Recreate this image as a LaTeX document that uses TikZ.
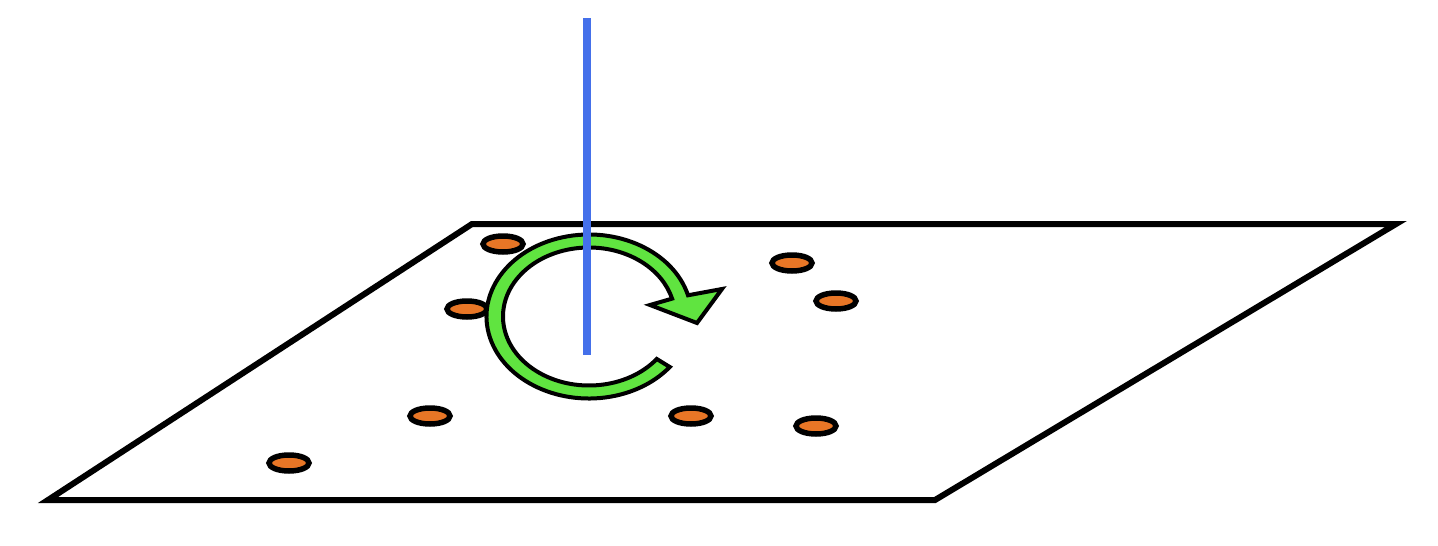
\documentclass[tikz,border=0pt]{standalone}
\usetikzlibrary{calc}
\definecolor{axisblue}{RGB}{68,112,234}
\definecolor{ringgreen}{RGB}{96,228,64}
\definecolor{dotorange}{RGB}{232,118,38}
\begin{document}
\begin{tikzpicture}[x=1pt,y=-1pt,
  plane/.style={draw=black,line width=6pt,line join=miter},
  spot/.style={draw=black,fill=dotorange,line width=5.5pt},
  ring/.style={draw=black,fill=ringgreen,line width=4pt,line join=miter},
  axis/.style={draw=axisblue,line width=8pt}]
\useasboundingbox (0,0) rectangle (1438,546);
% plane
\coordinate (p1) at (472,224);
\coordinate (p2) at (1396,224);
\coordinate (p3) at (935,500);
\coordinate (p4) at (48,500);
\draw[plane] (p1) -- (p2) -- (p3) -- (p4) -- cycle;
% spots
\foreach \x/\y in {503/244, 467/309, 792/263, 836/301, 430/416, 691/416, 816/426, 289/463}
  \draw[spot] (\x,\y) ellipse[x radius=20, y radius=8];
% rotation arrow
\coordinate (c) at (589,316.5);
\coordinate (ro1) at ($(c)+(345:102.5 and 82)$);
\coordinate (ri2) at ($(c)+(38:86 and 69)$);
\coordinate (hIn) at (650,305);
\coordinate (hTip) at (697,323);
\coordinate (hOut) at (722,289);
\draw[ring] (ro1) arc[start angle=345, end angle=38, x radius=102.5, y radius=82]
  -- (ri2) arc[start angle=38, end angle=345, x radius=86, y radius=69]
  -- (hIn) -- (hTip) -- (hOut) -- cycle;
% axis
\coordinate (a1) at (587,18);
\coordinate (a2) at (587,355);
\draw[axis] (a1) -- (a2);
\end{tikzpicture}
\end{document}
